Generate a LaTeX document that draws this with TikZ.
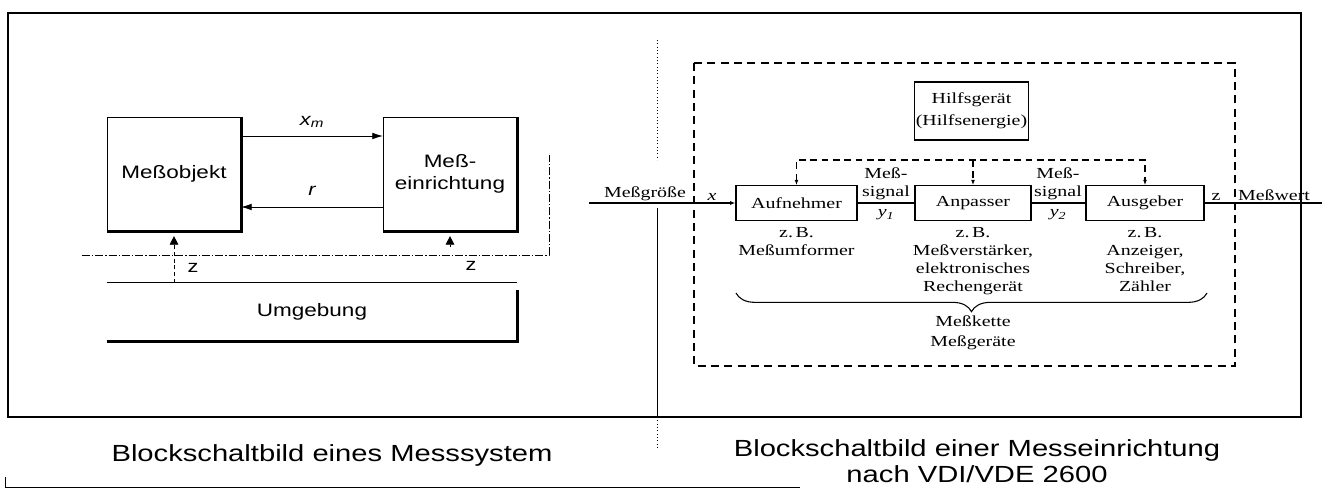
\documentclass[tikz,border=0pt]{standalone}
\usepackage{fontspec}
\setmainfont{Liberation Serif}[FakeStretch=1.3]
\setsansfont{Liberation Sans}[FakeStretch=1.25]
\usetikzlibrary{positioning,arrows.meta,calc,decorations.pathreplacing}
\begin{document}
\begin{tikzpicture}[x=0.75pt,y=-0.75pt,>=Latex,
blk/.style={draw,line width=0.6pt,minimum width=100pt,minimum height=85pt,align=center,font=\sffamily\fontsize{13.5}{16.5}\selectfont},
shadow/.style={line width=2.2pt},
sarr/.style={-{Latex[length=8pt,width=5pt]},line width=0.7pt},
zarr/.style={-{Triangle[length=6.5pt,width=6.5pt]},line width=0.6pt,dash pattern=on 3pt off 2pt},
envline/.style={line width=0.6pt,dash pattern=on 6pt off 1.5pt on 1pt off 1.5pt},
lbl/.style={font=\sffamily\fontsize{13}{15}\selectfont,inner sep=1pt},
dev/.style={draw,line width=0.8pt,minimum height=26pt,inner sep=1pt,font=\fontsize{11.5}{13.8}\selectfont},
note/.style={align=center,inner sep=1pt,font=\fontsize{11.5}{13.5}\selectfont},
sig/.style={line width=0.8pt},
fb/.style={line width=0.8pt,dash pattern=on 5pt off 3.5pt},
caption/.style={align=center,font=\sffamily\fontsize{17.5}{19}\selectfont}]
\useasboundingbox (0,0) rectangle (1322,493);

% frame
\draw[line width=0.8pt] (8,13) rectangle (1301,417);
\draw[line width=0.6pt] (5,487) -- (800,487) (5,477) -- (5,487);
\draw[line width=0.5pt,dotted] (657,40) -- (657,160) (657,417) -- (657,448);
\draw[line width=0.6pt] (657,208) -- (657,417);

% Messsystem
\node[blk] (mo) at (174,174) {Meßobjekt};
\node[blk] (me) at (450,174) {Meß-\\einrichtung};
\node[minimum width=307.5pt,minimum height=43.5pt,font=\sffamily\fontsize{13.5}{16.5}\selectfont] (umg) at (312,312) {Umgebung};
\draw[shadow] (mo.south west) -| (mo.north east);
\draw[shadow] (me.south west) -| (me.north east);
\draw[line width=0.6pt] (umg.north west) -- (umg.north east);
\draw[shadow] (umg.south west) -| ($(umg.north east)+(0,7)$);
\draw[sarr] ($(mo.east)+(0,-38)$) coordinate (xm) -- (xm -| me.west) node[lbl,midway,above=5pt] {\itshape x\textsubscript{m}};
\draw[sarr] ($(me.west)+(0,33)$) coordinate (rr) -- (rr -| mo.east) node[lbl,midway,above=7pt] {\itshape r};
\draw[envline] (82,255) -| (549,155);
\draw[zarr] (mo.south |- umg.north) -- ($(mo.south)+(0,5)$);
\node[lbl] (z1) at (193,268) {z};
\coordinate (zme) at ($(me.south)+(0,16)$);
\draw[zarr] (zme) -- ($(me.south)+(0,5)$);
\node[lbl] (z2) at (471,266) {z};
\node[caption] (capl) at (332,455) {Blockschaltbild eines Messsystem};

% Messeinrichtung
\draw[line width=1pt,dash pattern=on 6pt off 4pt] (694,63) rectangle (1235,366);
\node[dev,minimum width=86pt,minimum height=43.5pt,align=center,font=\fontsize{11.5}{16.5}\selectfont] (hg) at (971.5,111) {Hilfsgerät\\(Hilfsenergie)};
\node[dev,minimum width=90.75pt] (auf) at (796.5,203) {Aufnehmer};
\node[dev,minimum width=87pt] (anp) at (973,203) {Anpasser};
\node[dev,minimum width=88.5pt] (aus) at (1145,203) {Ausgeber};
\coordinate (in) at (589,203);
\coordinate (out) at (1322,203);
\coordinate (fbm) at (973,160);
\draw[sig,-{Latex[length=4pt,width=3pt]}] (in) -- (auf);
\draw[sig] (auf) -- (anp);
\draw[sig] (anp) -- (aus);
\draw[sig] (aus) -- (out);
\draw[fb,{Latex[length=4pt,width=3pt]}-{Latex[length=4pt,width=3pt]}] (auf.north) |- (fbm) -| (aus.north);
\draw[fb,-{Latex[length=4pt,width=3pt]}] (fbm) -- (anp.north);
\node[note,anchor=south] (lin) at (645,202) {Meßgröße};
\node[note,anchor=south] (lx) at (712,202) {\itshape x};
\node[note,anchor=south] (ls1) at (886,201) {Meß-\\signal};
\node[note,anchor=north] (ly1) at (886,208) {\itshape y\textsubscript{1}};
\node[note,anchor=south] (ls2) at (1058,201) {Meß-\\signal};
\node[note,anchor=north] (ly2) at (1058,208) {\itshape y\textsubscript{2}};
\node[note,anchor=south] (lz) at (1216,202) {z};
\node[note,anchor=south] (lout) at (1274,202) {Meßwert};
\node[note,below=4pt of auf] (aufn) {z.\,B.\\Meßumformer};
\node[note,below=4pt of anp] (anpn) {z.\,B.\\Meßverstärker,\\elektronisches\\Rechengerät};
\node[note,below=4pt of aus] (ausn) {z.\,B.\\Anzeiger,\\Schreiber,\\Zähler};
\coordinate (brl) at (736,293);
\coordinate (brr) at (1207,293);
\draw[line width=0.8pt,decorate,decoration={brace,mirror,amplitude=14pt}] (brl) -- (brr);
\node[note,font=\fontsize{11.5}{15}\selectfont] (kette) at (973,333) {Meßkette\\Meßgeräte};
\node[caption] (capr) at (977,461) {Blockschaltbild einer Messeinrichtung\\nach VDI/VDE 2600};
\end{tikzpicture}
\end{document}
